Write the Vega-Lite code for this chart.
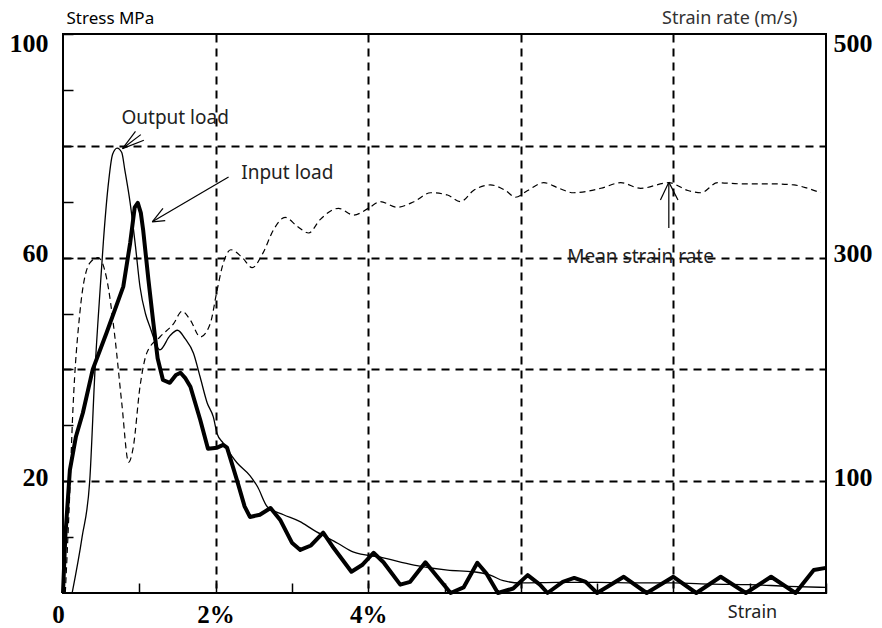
{
  "$schema": "https://vega.github.io/schema/vega-lite/v6.json",
  "width": 763,
  "height": 559,
  "autosize": "none",
  "padding": {"left": 63, "top": 34, "right": 56, "bottom": 35},
  "background": "white",
  "config": {
    "view": {"stroke": "black", "strokeWidth": 2},
    "axis": {"domain": false}
  },
  "datasets": {
    "output": [
      {"x": 0.12, "y": 0}, {"x": 0.25, "y": 10}, {"x": 0.35, "y": 20}, {"x": 0.42, "y": 40},
      {"x": 0.49, "y": 55}, {"x": 0.53, "y": 63}, {"x": 0.59, "y": 72.6}, {"x": 0.65, "y": 78.5},
      {"x": 0.71, "y": 79.6}, {"x": 0.77, "y": 78.8}, {"x": 0.81, "y": 75.7}, {"x": 0.88, "y": 69.8},
      {"x": 0.95, "y": 62}, {"x": 1.01, "y": 54.7}, {"x": 1.08, "y": 50}, {"x": 1.14, "y": 47.6},
      {"x": 1.27, "y": 43.5}, {"x": 1.40, "y": 46}, {"x": 1.50, "y": 47}, {"x": 1.60, "y": 45.5},
      {"x": 1.71, "y": 42.9}, {"x": 1.80, "y": 38.5}, {"x": 1.89, "y": 34}, {"x": 1.97, "y": 31.5},
      {"x": 2.02, "y": 28.5}, {"x": 2.10, "y": 26.8}, {"x": 2.28, "y": 23.3}, {"x": 2.45, "y": 21},
      {"x": 2.55, "y": 19}, {"x": 2.68, "y": 15.4}, {"x": 2.89, "y": 14}, {"x": 3.10, "y": 12.8},
      {"x": 3.28, "y": 11.3}, {"x": 3.60, "y": 8.9}, {"x": 3.81, "y": 7.3}, {"x": 4.16, "y": 6.4},
      {"x": 4.60, "y": 5}, {"x": 5.04, "y": 4.1}, {"x": 5.38, "y": 3.8}, {"x": 5.60, "y": 3.2},
      {"x": 5.77, "y": 2.2}, {"x": 6.0, "y": 1.8}, {"x": 6.5, "y": 1.9}, {"x": 7.0, "y": 1.9},
      {"x": 7.5, "y": 1.8}, {"x": 8.0, "y": 1.8}, {"x": 8.5, "y": 1.6}, {"x": 9.0, "y": 1.5},
      {"x": 9.5, "y": 1.2}, {"x": 10.0, "y": 1.0}
    ],
    "input": [
      {"x": 0, "y": 0}, {"x": 0.03, "y": 10}, {"x": 0.09, "y": 22}, {"x": 0.17, "y": 28},
      {"x": 0.26, "y": 32.2}, {"x": 0.39, "y": 40}, {"x": 0.57, "y": 46.5}, {"x": 0.79, "y": 54.8},
      {"x": 0.88, "y": 62.6}, {"x": 0.94, "y": 69}, {"x": 0.98, "y": 69.8}, {"x": 1.02, "y": 68},
      {"x": 1.05, "y": 65}, {"x": 1.12, "y": 56}, {"x": 1.18, "y": 48.8}, {"x": 1.24, "y": 42},
      {"x": 1.31, "y": 38.1}, {"x": 1.40, "y": 37.6}, {"x": 1.48, "y": 39}, {"x": 1.54, "y": 39.4},
      {"x": 1.60, "y": 38.5}, {"x": 1.67, "y": 36.9}, {"x": 1.80, "y": 30.9}, {"x": 1.90, "y": 25.8},
      {"x": 2.02, "y": 26}, {"x": 2.10, "y": 26.5}, {"x": 2.15, "y": 26}, {"x": 2.28, "y": 20.2},
      {"x": 2.38, "y": 15.5}, {"x": 2.45, "y": 13.6}, {"x": 2.58, "y": 14}, {"x": 2.72, "y": 15.2},
      {"x": 2.85, "y": 13}, {"x": 3.0, "y": 9}, {"x": 3.11, "y": 7.7}, {"x": 3.25, "y": 8.5},
      {"x": 3.41, "y": 10.8}, {"x": 3.55, "y": 8}, {"x": 3.78, "y": 3.8}, {"x": 3.92, "y": 5},
      {"x": 4.07, "y": 7.2}, {"x": 4.2, "y": 5.5}, {"x": 4.42, "y": 1.5}, {"x": 4.55, "y": 2},
      {"x": 4.75, "y": 5.5}, {"x": 4.9, "y": 3}, {"x": 5.08, "y": 0}, {"x": 5.25, "y": 1},
      {"x": 5.43, "y": 5.4}, {"x": 5.55, "y": 3.5}, {"x": 5.7, "y": 0}, {"x": 5.9, "y": 0.8},
      {"x": 6.09, "y": 3.2}, {"x": 6.25, "y": 1.5}, {"x": 6.35, "y": 0}, {"x": 6.55, "y": 2},
      {"x": 6.7, "y": 2.7}, {"x": 6.85, "y": 2}, {"x": 7.0, "y": 0}, {"x": 7.35, "y": 2.9},
      {"x": 7.65, "y": 0}, {"x": 8.0, "y": 2.9}, {"x": 8.3, "y": 0}, {"x": 8.62, "y": 2.9},
      {"x": 8.95, "y": 0}, {"x": 9.28, "y": 2.9}, {"x": 9.6, "y": 0}, {"x": 9.84, "y": 4.1},
      {"x": 10.0, "y": 4.5}
    ],
    "rate": [
      {"x": 0.03, "r": 0}, {"x": 0.08, "r": 75}, {"x": 0.13, "r": 164}, {"x": 0.22, "r": 250},
      {"x": 0.35, "r": 295}, {"x": 0.46, "r": 300}, {"x": 0.57, "r": 282}, {"x": 0.68, "r": 229},
      {"x": 0.77, "r": 170}, {"x": 0.86, "r": 117}, {"x": 0.92, "r": 130}, {"x": 1.01, "r": 185},
      {"x": 1.10, "r": 215}, {"x": 1.27, "r": 229}, {"x": 1.45, "r": 241}, {"x": 1.56, "r": 252},
      {"x": 1.67, "r": 244}, {"x": 1.80, "r": 229}, {"x": 1.93, "r": 241}, {"x": 2.02, "r": 271},
      {"x": 2.10, "r": 295}, {"x": 2.20, "r": 307}, {"x": 2.35, "r": 300}, {"x": 2.48, "r": 291},
      {"x": 2.62, "r": 304}, {"x": 2.76, "r": 325}, {"x": 2.91, "r": 336}, {"x": 3.07, "r": 328},
      {"x": 3.22, "r": 322}, {"x": 3.37, "r": 334}, {"x": 3.61, "r": 344}, {"x": 3.81, "r": 338},
      {"x": 4.0, "r": 344}, {"x": 4.16, "r": 350}, {"x": 4.38, "r": 345}, {"x": 4.6, "r": 350},
      {"x": 4.82, "r": 358}, {"x": 5.04, "r": 356}, {"x": 5.21, "r": 350}, {"x": 5.38, "r": 360},
      {"x": 5.6, "r": 365}, {"x": 5.8, "r": 360}, {"x": 5.93, "r": 354}, {"x": 6.09, "r": 360},
      {"x": 6.3, "r": 367}, {"x": 6.5, "r": 362}, {"x": 6.69, "r": 358}, {"x": 7.05, "r": 362},
      {"x": 7.31, "r": 367}, {"x": 7.57, "r": 362}, {"x": 7.94, "r": 367}, {"x": 8.19, "r": 360},
      {"x": 8.36, "r": 358}, {"x": 8.58, "r": 367}, {"x": 8.88, "r": 366}, {"x": 9.24, "r": 366},
      {"x": 9.58, "r": 365}, {"x": 9.76, "r": 362}, {"x": 9.93, "r": 358}
    ],
    "labels": [
      {"x": 1.47, "y": 85, "label": "Output load"},
      {"x": 2.94, "y": 75.1, "label": "Input load"},
      {"x": 7.57, "y": 60.1, "label": "Mean strain rate"}
    ],
    "arrows": [
      {"x": 0.78, "y": 79.5, "x2": 0.95, "y2": 82.6},
      {"x": 0.78, "y": 79.5, "x2": 1.02, "y2": 82.0},
      {"x": 0.78, "y": 79.5, "x2": 1.06, "y2": 81.0},
      {"x": 2.17, "y": 74.4, "x2": 1.17, "y2": 66.4},
      {"x": 1.17, "y": 66.4, "x2": 1.31, "y2": 68.8},
      {"x": 1.17, "y": 66.4, "x2": 1.34, "y2": 66.6},
      {"x": 7.94, "y": 65.3, "x2": 7.94, "y2": 73.5},
      {"x": 7.94, "y": 73.5, "x2": 7.83, "y2": 70.3},
      {"x": 7.94, "y": 73.5, "x2": 8.06, "y2": 70.3}
    ]
  },
  "encoding": {
    "x": {
      "field": "x", "type": "quantitative",
      "scale": {"domain": [0, 10], "nice": false, "zero": false},
      "axis": {
        "values": [0, 1, 2, 3, 4, 5, 6, 7, 8, 9, 10],
        "labelExpr": "datum.value == 0 ? '0' : (datum.value == 2 || datum.value == 4) ? datum.value + '%' : ''",
        "labelFont": "Liberation Serif", "labelFontWeight": "bold", "labelFontSize": 25,
        "labelColor": "black", "labelFlush": false, "labelPadding": 31, "labelBaseline": "middle",
        "labelOffset": {"condition": {"test": "datum.value == 0", "value": -5}, "value": 0},
        "ticks": true, "tickSize": -10, "tickColor": "black", "tickWidth": 1.5,
        "grid": true, "gridColor": "black", "gridWidth": 2, "gridDash": [8, 6],
        "gridOpacity": {"condition": {"test": "datum.value % 2 == 1 || datum.value == 0 || datum.value == 10", "value": 0}, "value": 1},
        "title": "Strain", "titleFont": "Noto Sans", "titleFontSize": 18, "titleFontWeight": "normal",
        "titleColor": "#222", "titleX": 689, "titleY": 19, "titleAlign": "center", "titleBaseline": "middle"
      }
    }
  },
  "layer": [
    {
      "encoding": {
        "y": {
          "field": "y", "type": "quantitative",
          "scale": {"domain": [0, 100], "nice": false},
          "axis": {
            "values": [10, 20, 30, 40, 50, 60, 70, 80, 90, 100],
            "labelExpr": "(datum.value == 100 || datum.value == 60 || datum.value == 20) ? datum.label : ''",
            "labelFont": "Liberation Serif", "labelFontWeight": "bold", "labelFontSize": 26,
            "labelColor": "black", "labelPadding": 25,
            "labelOffset": {"condition": {"test": "datum.value == 100", "value": 9}, "value": -4},
            "ticks": true, "tickSize": -10, "tickColor": "black", "tickWidth": 1.5,
            "grid": true, "gridColor": "black", "gridWidth": 2, "gridDash": [8, 6],
            "gridOpacity": {"condition": {"test": "datum.value % 20 != 0 || datum.value == 100", "value": 0}, "value": 1},
            "title": "Stress MPa", "titleFont": "Noto Sans", "titleFontSize": 17, "titleFontWeight": "normal",
            "titleColor": "black", "titleAngle": 0, "titleAlign": "left", "titleBaseline": "middle",
            "titleX": 3, "titleY": -16
          }
        }
      },
      "layer": [
        {
          "data": {"name": "output"},
          "mark": {"type": "line", "color": "black", "strokeWidth": 1.3, "interpolate": "monotone"}
        },
        {
          "data": {"name": "input"},
          "mark": {"type": "line", "color": "black", "strokeWidth": 4, "interpolate": "linear", "strokeJoin": "round"}
        },
        {
          "data": {"name": "arrows"},
          "mark": {"type": "rule", "color": "black", "strokeWidth": 1.2},
          "encoding": {"x2": {"field": "x2"}, "y2": {"field": "y2"}}
        },
        {
          "data": {"name": "labels"},
          "mark": {"type": "text", "font": "Noto Sans", "fontSize": 19, "color": "#222", "align": "center", "baseline": "middle"},
          "encoding": {"text": {"field": "label"}}
        }
      ]
    },
    {
      "data": {"name": "rate"},
      "mark": {"type": "line", "color": "black", "strokeWidth": 1.2, "strokeDash": [6, 4], "interpolate": "monotone"},
      "encoding": {
        "y": {
          "field": "r", "type": "quantitative",
          "scale": {"domain": [0, 500], "nice": false},
          "axis": {
            "orient": "right",
            "values": [100, 300, 500],
            "labelFont": "Liberation Serif", "labelFontWeight": "bold", "labelFontSize": 26,
            "labelColor": "black", "labelPadding": 7,
            "labelOffset": {"condition": {"test": "datum.value == 500", "value": 9}, "value": -4},
            "ticks": false, "grid": false,
            "title": "Strain rate (m/s)", "titleFont": "Noto Sans", "titleFontSize": 18, "titleFontWeight": "normal",
            "titleColor": "#333", "titleAngle": 0, "titleAlign": "right", "titleBaseline": "middle",
            "titleX": -29, "titleY": -16
          }
        }
      }
    }
  ],
  "resolve": {"scale": {"y": "independent"}}
}
